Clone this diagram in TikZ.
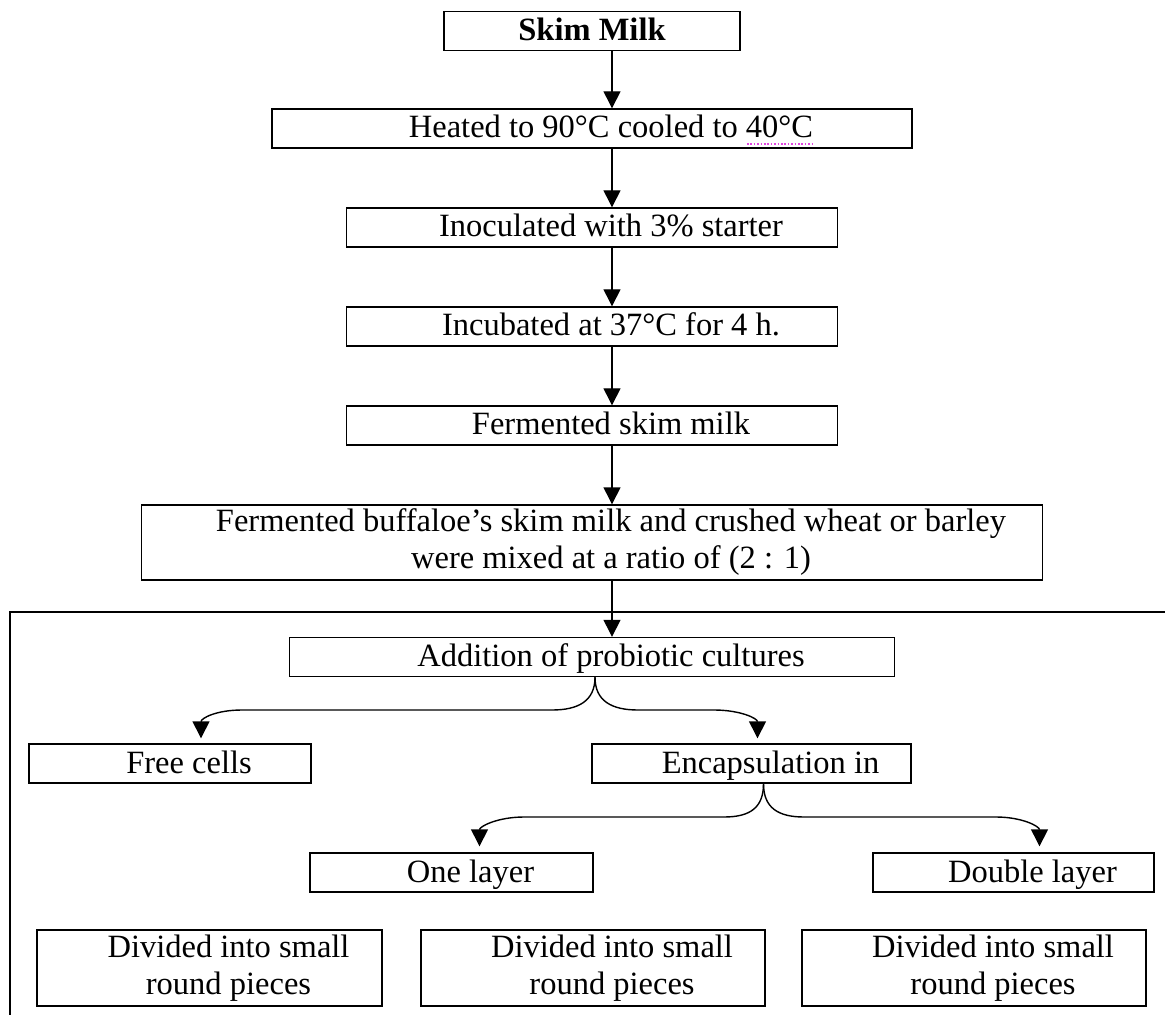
\documentclass[tikz,border=0pt]{standalone}
\usepackage{fontspec}
\setmainfont{Liberation Serif}
\usepackage{tikz}
\usetikzlibrary{arrows.meta}

\definecolor{spellpink}{RGB}{225,70,225}

\begin{document}
\begin{tikzpicture}
      [x=0.5pt, y=-0.5pt, line width=0.7pt,
       >={Triangle[width=8.5pt,length=8.5pt]},
       box/.style={draw, inner sep=0pt, minimum height=19.5pt,
                   text height=12.5pt, text depth=3pt,
                   font=\fontsize{16.25}{18.5}\selectfont, align=center},
       ibox/.style={box, execute at begin node=\hspace*{19pt}},
       tallbox/.style={ibox, minimum height=38pt, text height=, text depth=}]
      \useasboundingbox (0,0) rectangle (1165,1015);

      \node [box, minimum width=148pt, font=\fontsize{16.25}{18.5}\selectfont\bfseries]
            (skim)     at (592,  31) {Skim Milk};
      \node [ibox, minimum width=320pt]   (heated)   at (592, 128.5) {Heated to 90°C cooled to 40°C};
      \node [ibox, minimum width=245.5pt] (inoc)     at (592, 227.5) {Inoculated with 3\% starter};
      \node [ibox, minimum width=245.5pt] (incub)    at (592, 326.5) {Incubated at 37°C for 4 h.};
      \node [ibox, minimum width=245.5pt] (ferm)     at (592, 425.5) {Fermented skim milk};
      \node [tallbox, minimum width=450.5pt, minimum height=37.5pt]
            (mixed)    at (592, 542.5) {Fermented buffaloe’s skim milk and crushed wheat or barley\\were mixed at a ratio of (2 : 1)};
      \node [ibox, minimum width=302.5pt] (addition) at (592, 657)   {Addition of probiotic cultures};
      \node [ibox, minimum width=141pt]   (free)     at (170, 763.5) {Free cells};
      \node [ibox, minimum width=159.5pt] (encaps)   at (751.5, 763.5) {Encapsulation in};
      \node [ibox, minimum width=141.5pt] (one)      at (451.5, 872.5) {One layer};
      \node [ibox, minimum width=140.5pt] (double)   at (1013.5, 872.5) {Double layer};
      \node [tallbox, minimum width=172.5pt] (div1)  at (209.5, 968) {Divided into small\\round pieces};
      \node [tallbox, minimum width=172pt]   (div2)  at (593, 968)   {Divided into small\\round pieces};
      \node [tallbox, minimum width=172pt]   (div3)  at (974, 968)   {Divided into small\\round pieces};

      % spell-check mark
      \draw [spellpink, line width=0.8pt, dash pattern=on 0.8pt off 0.9pt] (747,144) -- (812,144);

      % frame
      \draw (1170,612) -| (10,1020);

      \foreach \a/\b in {skim/heated, heated/inoc, inoc/incub, incub/ferm, ferm/mixed, mixed/addition}
        \draw [->] ([xshift=10pt]\a.south) to ([xshift=10pt]\b.north);

      \draw [->] ([xshift=1.5pt]addition.south) .. controls +(0,24) and +(26,0) .. (552,710)
            -- (242,710) .. controls +(-26,0) and +(0,-20) .. ([xshift=15.5pt,yshift=2.5pt]free.north);
      \draw [->] ([xshift=1.5pt]addition.south) .. controls +(0,24) and +(-26,0) .. (638,710)
            -- (714,710) .. controls +(26,0) and +(0,-20) .. ([xshift=3pt,yshift=2.5pt]encaps.north);
      \draw [->] ([xshift=6pt]encaps.south) .. controls +(0,24) and +(26,0) .. (724,817)
            -- (524,817) .. controls +(-26,0) and +(0,-20) .. ([xshift=14pt,yshift=3pt]one.north);
      \draw [->] ([xshift=6pt]encaps.south) .. controls +(0,24) and +(-26,0) .. (804,817)
            -- (996,817) .. controls +(26,0) and +(0,-20) .. ([xshift=13pt,yshift=3pt]double.north);
    \end{tikzpicture}
\end{document}
